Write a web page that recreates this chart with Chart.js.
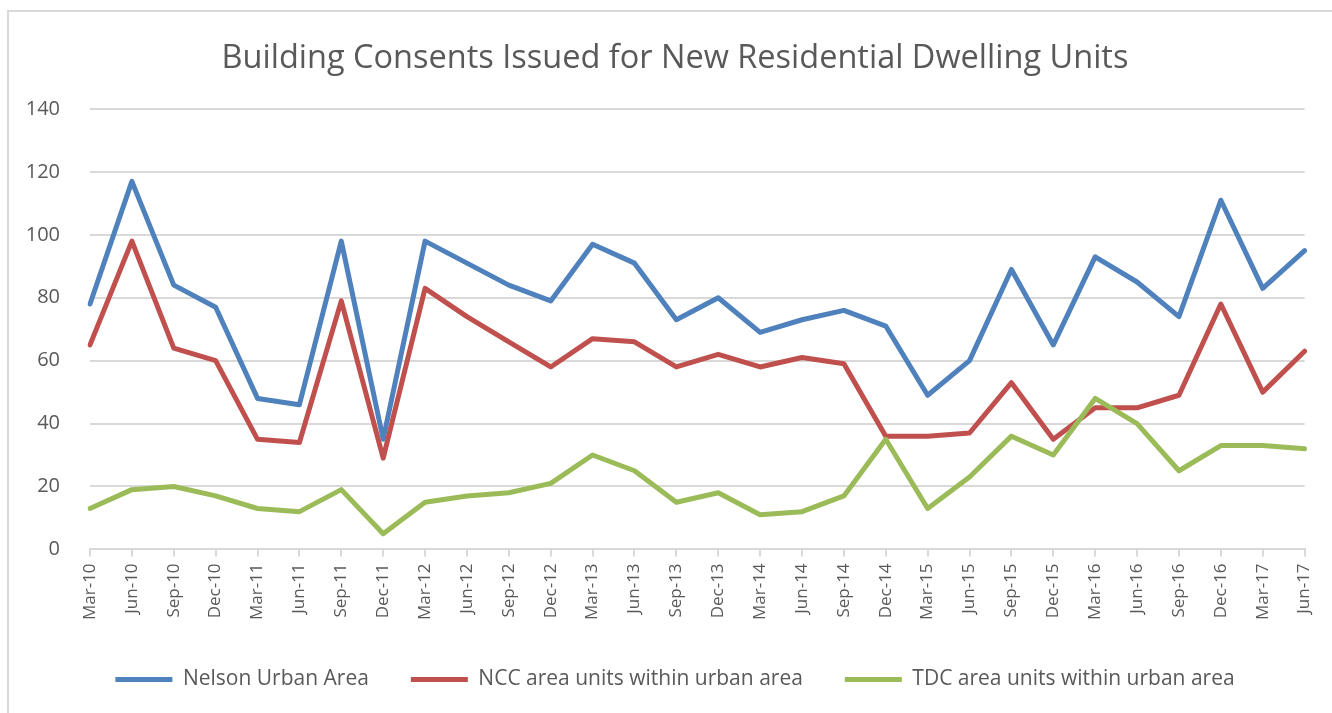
<!DOCTYPE html>
<html>
<head>
<meta charset="utf-8">
<script src="https://cdn.jsdelivr.net/npm/chart.js@4/dist/chart.umd.min.js"></script>
<style>
  html, body { margin: 0; padding: 0; background: #fff; }
  #frame { position: absolute; left: 7px; top: 10px; width: 1340px; height: 720px; border: 2px solid #D9D9D9; }
  #wrap { position: absolute; left: 0; top: 0; width: 1332px; height: 713px; }
</style>
</head>
<body>
<div id="frame"></div>
<div id="wrap"><canvas id="chart"></canvas></div>
<script>
// quarters, Mar-10 .. Jun-17
var QUARTERS = ["Mar-10", "Jun-10", "Sep-10", "Dec-10", "Mar-11", "Jun-11", "Sep-11", "Dec-11",
  "Mar-12", "Jun-12", "Sep-12", "Dec-12", "Mar-13", "Jun-13", "Sep-13", "Dec-13",
  "Mar-14", "Jun-14", "Sep-14", "Dec-14", "Mar-15", "Jun-15", "Sep-15", "Dec-15",
  "Mar-16", "Jun-16", "Sep-16", "Dec-16", "Mar-17", "Jun-17"];

var NELSON_URBAN = [78, 117, 84, 77, 48, 46, 98, 35, 98, 91, 84, 79, 97, 91, 73, 80,
  69, 73, 76, 71, 49, 60, 89, 65, 93, 85, 74, 111, 83, 95];
var NCC_UNITS = [65, 98, 64, 60, 35, 34, 79, 29, 83, 74, 66, 58, 67, 66, 58, 62,
  58, 61, 59, 36, 36, 37, 53, 35, 45, 45, 49, 78, 50, 63];
var TDC_UNITS = [13, 19, 20, 17, 13, 12, 19, 5, 15, 17, 18, 21, 30, 25, 15, 18,
  11, 12, 17, 35, 13, 23, 36, 30, 48, 40, 25, 33, 33, 32];

var Y_TICKS = [0, 20, 40, 60, 80, 100, 120, 140];

var TEXT_COLOR = "#595959";
var GRID_COLOR = "#D9D9D9";

Chart.defaults.font.family = "Open Sans";
Chart.defaults.color = TEXT_COLOR;

function makeSeries(label, values, color, order) {
  return {
    label: label,
    data: values,
    borderColor: color,
    backgroundColor: color,
    borderWidth: 5,
    pointRadius: 0,
    tension: 0,
    borderJoinStyle: "round",
    borderCapStyle: "round",
    order: order // later series sit on top, as in the original
  };
}

var ctx = document.getElementById("chart").getContext("2d");
var chart = new Chart(ctx, {
  type: "line",
  data: {
    labels: QUARTERS,
    datasets: [
      makeSeries("Nelson Urban Area", NELSON_URBAN, "#4F81BD", 3),
      makeSeries("NCC area units within urban area", NCC_UNITS, "#C0504D", 2),
      makeSeries("TDC area units within urban area", TDC_UNITS, "#9BBB59", 1)
    ]
  },
  options: {
    responsive: true,
    maintainAspectRatio: false,
    animation: false,
    layout: { padding: { left: 25, right: 7, top: 0, bottom: 13 } },
    plugins: {
      title: {
        display: true,
        text: "Building Consents Issued for New Residential Dwelling Units",
        color: TEXT_COLOR,
        font: { family: "Open Sans", size: 32.5, weight: "normal" },
        padding: { top: 39, bottom: 31 }
      },
      legend: {
        position: "bottom",
        labels: {
          color: TEXT_COLOR,
          font: { family: "Open Sans", size: 21 },
          boxWidth: 57,
          boxHeight: 5,
          padding: 42,
          sort: function (a, b) { return a.datasetIndex - b.datasetIndex; },
          generateLabels: function (chart) {
            var items = Chart.defaults.plugins.legend.labels.generateLabels(chart);
            items.forEach(function (it) { it.lineWidth = 0; });
            return items;
          }
        }
      },
      tooltip: { enabled: false }
    },
    scales: {
      x: {
        offset: false,
        border: { display: true, color: GRID_COLOR, width: 2 },
        grid: { drawOnChartArea: false, drawTicks: true, tickLength: 7, color: GRID_COLOR, lineWidth: 2 },
        ticks: {
          color: TEXT_COLOR,
          font: { family: "Open Sans", size: 17 },
          minRotation: 90,
          maxRotation: 90,
          autoSkip: false,
          padding: 7
        }
      },
      y: {
        min: 0,
        max: 140,
        border: { display: false },
        grid: { color: GRID_COLOR, lineWidth: 2, drawTicks: false },
        afterBuildTicks: function (axis) {
          axis.ticks = Y_TICKS.map(function (v) { return { value: v }; });
        },
        afterFit: function (axis) {
          axis.width = 65;
        },
        ticks: {
          color: TEXT_COLOR,
          font: { family: "Open Sans", size: 20 },
          padding: 30
        }
      },
      // empty right-hand gutter so the title and legend centre like the original
      gutter: {
        type: "linear",
        position: "right",
        display: true,
        border: { display: false },
        grid: { display: false },
        ticks: { display: false },
        afterFit: function (axis) {
          axis.width = 20;
        }
      }
    }
  }
});
</script>
</body>
</html>
